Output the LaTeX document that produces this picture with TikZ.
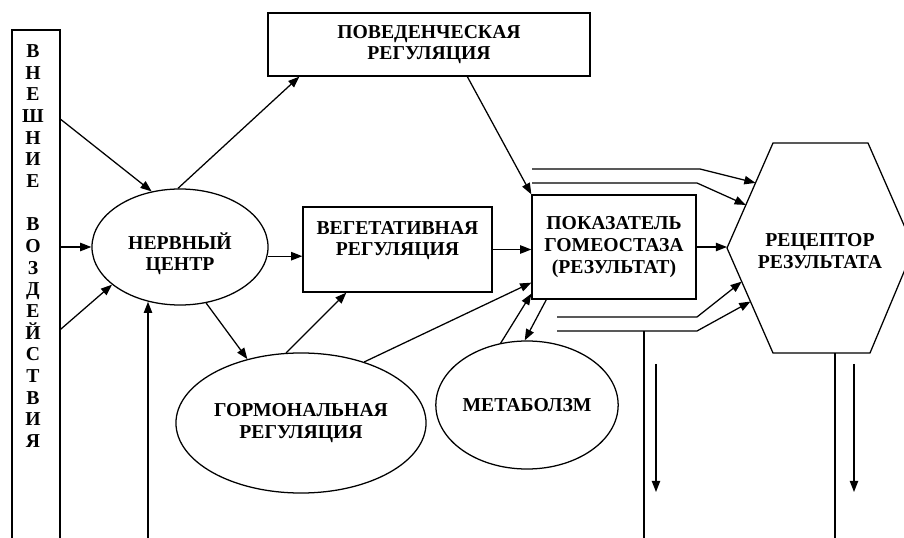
\documentclass[tikz,border=0pt]{standalone}
\usepackage{fontspec}
\setmainfont{Liberation Serif}
\usetikzlibrary{arrows.meta, positioning, calc, shapes.geometric}

\begin{document}
\begin{tikzpicture}[
  x=0.025cm, y=-0.025cm,
  line width=0.9pt,
  font=\rmfamily\bfseries\fontsize{14}{15.4}\selectfont,
  box/.style={rectangle, draw, align=center},
  oval/.style={ellipse, draw, align=center, inner sep=0pt},
  arr/.style={-{Triangle[length=2.8mm, width=2.1mm]}},
]
\useasboundingbox (0,0) rectangle (904,538);

\node[box, minimum width=1.2cm, minimum height=13.5cm] (vozd) at (36,300) {};
\node[align=center] (vozdtxt) at (33,246) {В\\Н\\Е\\Ш\\Н\\И\\Е\\[15.4pt]В\\О\\З\\Д\\Е\\Й\\С\\Т\\В\\И\\Я};
\node[oval, minimum width=4.4cm, minimum height=2.9cm] (nerv) at (180,247) {\mbox{}\\[6pt]НЕРВНЫЙ\\ЦЕНТР};
\node[box, minimum width=8.05cm, minimum height=1.575cm] (beh) at (429,44.5) {ПОВЕДЕНЧЕСКАЯ\\РЕГУЛЯЦИЯ};
\node[box, minimum width=4.725cm, minimum height=2.125cm] (veg) at (397.5,249.5) {ВЕГЕТАТИВНАЯ\\РЕГУЛЯЦИЯ\\[0pt]\mbox{}};
\node[box, minimum width=4.1cm, minimum height=2.6cm] (pok) at (614,247) {ПОКАЗАТЕЛЬ\\ГОМЕОСТАЗА\\(РЕЗУЛЬТАТ)};
\node[oval, minimum width=6.25cm, minimum height=3.5cm] (horm) at (301,423) {ГОРМОНАЛЬНАЯ\\РЕГУЛЯЦИЯ};
\node[oval, minimum width=4.5cm, minimum height=3.2cm] (met) at (527,405) {МЕТАБОЛЗМ};
\node[align=center] (rec) at (820,251) {РЕЦЕПТОР\\РЕЗУЛЬТАТА};
\draw (727,248) coordinate (rec w) -- (773,143) coordinate (rec nw) -- (868,143) coordinate (rec ne)
  -- (914,248) coordinate (rec e) -- (870,353) coordinate (rec se) -- (773,353) coordinate (rec sw) -- cycle;

\coordinate (in bot) at (148,545);
\coordinate (t1) at (532,169);
\coordinate (t2) at (532,183);
\coordinate (b1) at (557,317);
\coordinate (b2) at (557,331);
\coordinate (v top) at (644,331);
\coordinate (v bot) at (644,545);
\coordinate (d1 top) at (656,364);
\coordinate (d1 bot) at (656,492);
\coordinate (d2 top) at (854,364);
\coordinate (d2 bot) at (854,492);

\draw[arr] ($(vozd.north east)+(0,90)$) -- (nerv.117);
\draw[arr] (nerv.west -| vozd.east) -- (nerv.west);
\draw[arr] ($(vozd.north east)+(0,300)$) -- (nerv.209);
\draw[arr] (in bot) -- (in bot |- nerv.240);
\draw[arr] (nerv.92) -- ($(beh.south west)+(32,0)$);
\draw[arr] ($(beh.south west)+(200,0)$) -- (pok.north west);
\draw[arr] (nerv.-6) -- (nerv.-6 -| veg.west);
\draw[arr] (veg.east) -- (veg.east -| pok.west);
\draw[arr] (nerv.-65) -- (horm.130);
\draw[arr] (horm.102) -- ($(veg.south west)+(44,0)$);
\draw[arr] (horm.44) -- ($(pok.south west)+(0,-17)$);
\draw[arr] (met.113) -- ($(pok.south west)+(0,-6)$);
\draw[arr] ($(pok.south west)+(15,0)$) -- (met.92);
\draw[arr] (pok.east) -- (pok.east -| rec w);
\draw[arr] (t1) -- ++(168,0) -- ($(rec w)!0.62!(rec nw)$);
\draw[arr] (t2) -- ++(165,0) -- ($(rec w)!0.41!(rec nw)$);
\draw[arr] (b1) -- ++(140,0) -- ($(rec w)!0.32!(rec sw)$);
\draw[arr] (b2) -- ++(140,0) -- ($(rec w)!0.51!(rec sw)$);
\draw (v top) -- (v bot);
\draw ($(rec sw)+(62,0)$) -- ++(0,192);
\draw[arr] (d1 top) -- (d1 bot);
\draw[arr] (d2 top) -- (d2 bot);
\end{tikzpicture}
\end{document}
